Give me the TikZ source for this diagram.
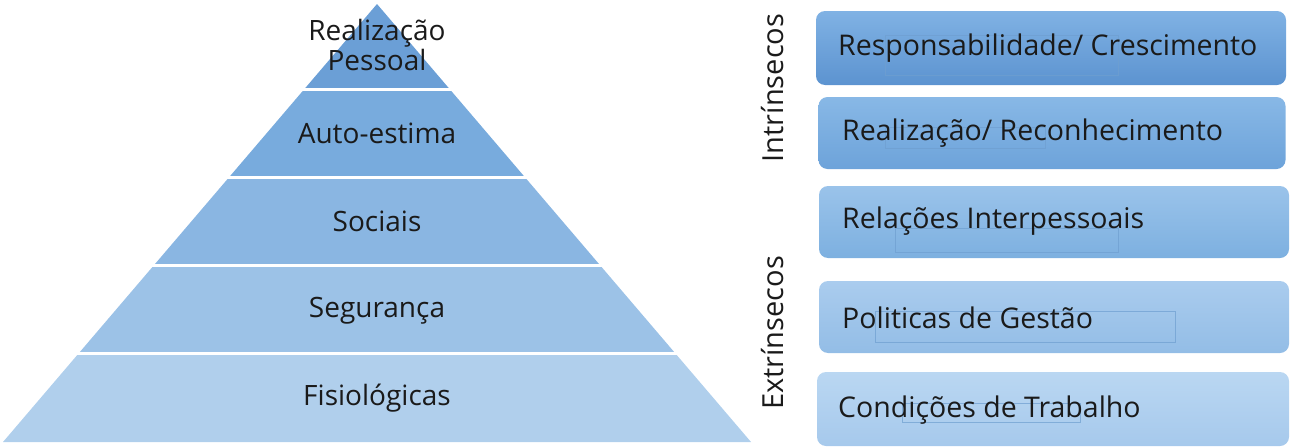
\documentclass[tikz,border=0pt]{standalone}
\usepackage{fontspec}
\setmainfont{Open Sans}
\usetikzlibrary{calc}
\definecolor{pA}{HTML}{6B9FD6}
\definecolor{pB}{HTML}{78ABDD}
\definecolor{pC}{HTML}{8AB6E2}
\definecolor{pD}{HTML}{9CC2E7}
\definecolor{pE}{HTML}{B0CFEC}
\definecolor{bAt}{HTML}{80B2E4}
\definecolor{bAb}{HTML}{5C93D0}
\definecolor{bBt}{HTML}{88B8E6}
\definecolor{bBb}{HTML}{6DA3DA}
\definecolor{bCt}{HTML}{9AC3EA}
\definecolor{bCb}{HTML}{7DB0E0}
\definecolor{bDt}{HTML}{AACCEE}
\definecolor{bDb}{HTML}{93BDE6}
\definecolor{bEt}{HTML}{BAD7F2}
\definecolor{bEb}{HTML}{A6C9EC}
\definecolor{txt}{HTML}{1A1A1A}
\definecolor{ghost}{HTML}{6F9FD0}
\tikzset{
  lvl/.style={text=txt, font=\fontsize{28}{30}\selectfont, align=center, inner sep=0pt},
  fbox/.style={rounded corners=9pt, minimum height=72pt, inner sep=0pt},
  ftext/.style={text=txt, font=\fontsize{28.5}{30}\selectfont, anchor=west, inner sep=0pt},
  side/.style={text=txt, font=\fontsize{29}{30}\selectfont, rotate=90, inner sep=0pt},
  sep/.style={white, line width=3.5pt},
  ghostbox/.style={draw=ghost, line width=0.5pt, opacity=0.7}
}
\begin{document}
\begin{tikzpicture}[x=1pt,y=-1pt]
\useasboundingbox (0,0) rectangle (1296,447);
% pyramid corners
\coordinate (A) at (377,4);
\coordinate (BL) at (3,442);
\coordinate (BR) at (751,442);
\coordinate (L1) at ($(A)!0.195!(BL)$); \coordinate (R1) at ($(A)!0.195!(BR)$);
\coordinate (L2) at ($(A)!0.396!(BL)$); \coordinate (R2) at ($(A)!0.396!(BR)$);
\coordinate (L3) at ($(A)!0.597!(BL)$); \coordinate (R3) at ($(A)!0.597!(BR)$);
\coordinate (L4) at ($(A)!0.798!(BL)$); \coordinate (R4) at ($(A)!0.798!(BR)$);
\fill[pA] (A) -- (R1) -- (L1) -- cycle;
\fill[pB] (L1) -- (R1) -- (R2) -- (L2) -- cycle;
\fill[pC] (L2) -- (R2) -- (R3) -- (L3) -- cycle;
\fill[pD] (L3) -- (R3) -- (R4) -- (L4) -- cycle;
\fill[pE] (L4) -- (R4) -- (BR) -- (BL) -- cycle;
\draw[sep] ($(L1)+(-3,0)$) -- ($(R1)+(3,0)$);
\draw[sep] ($(L2)+(-3,0)$) -- ($(R2)+(3,0)$);
\draw[sep] ($(L3)+(-3,0)$) -- ($(R3)+(3,0)$);
\draw[sep] ($(L4)+(-3,0)$) -- ($(R4)+(3,0)$);
% pyramid labels
\node[lvl] (n1) at (377,45) {Realização\\Pessoal};
\node[lvl] (n2) at (377,133) {Auto-estima};
\node[lvl] (n3) at (377,221) {Sociais};
\node[lvl] (n4) at (377,311) {Segurança};
\node[lvl] (n5) at (377,398) {Fisiológicas};
% side labels
\node[side] (intr) at (773,88) {Intrínsecos};
\node[side] (extr) at (773,333) {Extrínsecos};
% boxes
\node[fbox, top color=bAt, bottom color=bAb, minimum width=470pt, minimum height=74pt] (b1) at (1051,48) {};
\node[fbox, top color=bBt, bottom color=bBb, minimum width=467pt, minimum height=72pt] (b2) at (1052,133) {};
\node[fbox, top color=bCt, bottom color=bCb, minimum width=470pt, minimum height=72pt] (b3) at (1054,222) {};
\node[fbox, top color=bDt, bottom color=bDb, minimum width=470pt, minimum height=72pt] (b4) at (1054,317) {};
\node[fbox, top color=bEt, bottom color=bEb, minimum width=472pt, minimum height=74pt] (b5) at (1053,409) {};
% faint leftover frames
\draw[ghostbox] (895,228) rectangle (1118,252);
\draw[ghostbox] (875,311) rectangle (1175,342);
\draw[ghostbox] (902,403) rectangle (1080,422);
\draw[ghostbox] (885,35) rectangle (1118,75);
\draw[ghostbox] (885,127) rectangle (1045,148);
% box texts
\node[ftext] (t1) at (838,48) {Responsabilidade/ Crescimento};
\node[ftext] (t2) at (842,133) {Realização/ Reconhecimento};
\node[ftext] (t3) at (842,221) {Relações Interpessoais};
\node[ftext] (t4) at (842,318) {Politicas de Gestão};
\node[ftext] (t5) at (838,410) {Condições de Trabalho};
\end{tikzpicture}
\end{document}
